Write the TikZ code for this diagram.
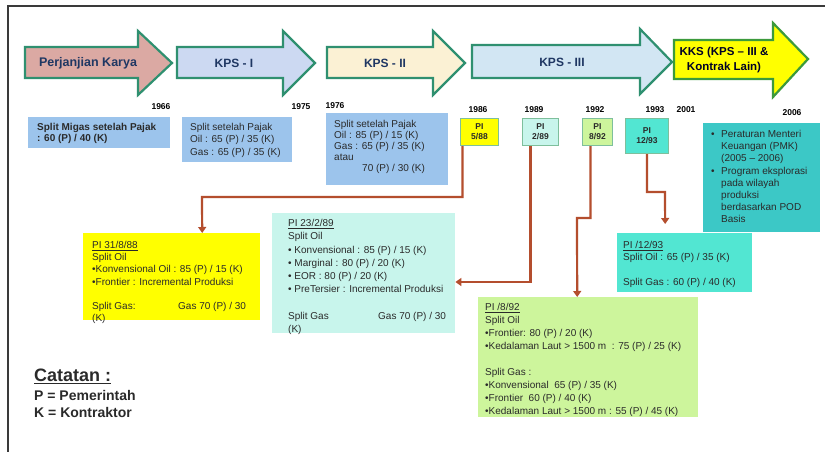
\documentclass[tikz,border=0pt]{standalone}
\usepackage{fontspec}
\setmainfont{Liberation Sans}
\usetikzlibrary{arrows.meta}

\definecolor{framec}{HTML}{3A3A3A}
\definecolor{arrowline}{HTML}{2F9070}
\definecolor{labelc}{HTML}{1F3763}
\definecolor{textc}{HTML}{2A2A2A}
\definecolor{fillpk}{HTML}{DBA9A3}
\definecolor{fillkpsi}{HTML}{CCD9F2}
\definecolor{fillkpsii}{HTML}{FBF1D4}
\definecolor{fillkpsiii}{HTML}{D2E6F3}
\definecolor{fillkks}{HTML}{FFFF00}
\definecolor{kksline}{HTML}{3C9A3C}
\definecolor{bluebox}{HTML}{9CC4EC}
\definecolor{yellowbox}{HTML}{FFFF00}
\definecolor{aquabox}{HTML}{C8F5EC}
\definecolor{greenbox}{HTML}{CDF59C}
\definecolor{turqbox}{HTML}{52E6D2}
\definecolor{tealbox}{HTML}{3CC8C6}
\definecolor{piborder}{HTML}{7EBF9C}
\definecolor{connc}{HTML}{B44E2E}

\tikzset{
  blockarrow/.style={draw=arrowline, line width=2.2pt, line join=miter},
  arrowlabel/.style={font=\fontsize{12}{15}\selectfont\bfseries, text=labelc, align=center, inner sep=0pt},
  panel/.style={anchor=north west, inner sep=0pt, draw=none},
  pibox/.style={anchor=north west, inner sep=0pt, draw=piborder, line width=1pt},
  pilabel/.style={font=\fontsize{8.5}{10}\selectfont\bfseries, text=textc, align=center, inner sep=0pt},
  yearlabel/.style={font=\fontsize{8.5}{10}\selectfont\bfseries, text=black, inner sep=0pt},
  boxtext/.style={anchor=north west, inner sep=0pt, align=left, text=textc},
  conn/.style={draw=connc, line width=2.2pt, -{Triangle[width=8pt,length=6pt]}},
}

\begin{document}
\begin{tikzpicture}[x=1pt,y=-1pt]
\useasboundingbox (0,0) rectangle (825,452);
\fill[white] (0,0) rectangle (825,452);

% outer frame
\draw[framec, line width=1.6pt] (8,452) -- (8,6) -- (825,6);

% phase arrows
\draw[blockarrow, fill=fillpk] (25,47) -- (138,47) -- (138,31) -- (172,63) -- (138,95) -- (138,78) -- (25,78) -- cycle;
\draw[blockarrow, fill=fillkpsi] (177,47) -- (283,47) -- (283,31) -- (315,63) -- (283,95) -- (283,78) -- (177,78) -- cycle;
\draw[blockarrow, fill=fillkpsii] (327,47) -- (433,47) -- (433,31) -- (465,63) -- (433,95) -- (433,78) -- (327,78) -- cycle;
\draw[blockarrow, fill=fillkpsiii] (472,45) -- (640,45) -- (640,29) -- (672,62) -- (640,94) -- (640,78) -- (472,78) -- cycle;
\draw[blockarrow, draw=kksline, fill=fillkks] (674,40) -- (773,40) -- (773,23) -- (808,59) -- (773,97) -- (773,79) -- (674,79) -- cycle;

\node[arrowlabel, font=\fontsize{12.5}{15}\selectfont\bfseries] (lpk) at (88,63) {Perjanjian Karya};
\node[arrowlabel] (lkps1) at (234,63) {KPS - I};
\node[arrowlabel] (lkps2) at (385,63) {KPS - II};
\node[arrowlabel] (lkps3) at (562,62) {KPS - III};
\node[arrowlabel, font=\fontsize{11.5}{15}\selectfont\bfseries, text=black!85!blue] (lkks) at (724,60) {KKS (KPS -- III \&\\Kontrak Lain)};

% years
\node[yearlabel] (y66) at (161,107) {1966};
\node[yearlabel] (y75) at (301,107) {1975};
\node[yearlabel] (y76) at (335,106) {1976};
\node[yearlabel] (y86) at (478,110) {1986};
\node[yearlabel] (y89) at (534,110) {1989};
\node[yearlabel] (y92) at (595,110) {1992};
\node[yearlabel] (y93) at (655,110) {1993};
\node[yearlabel] (y01) at (686,110) {2001};
\node[yearlabel] (y06) at (792,113) {2006};

% fiscal split boxes (top row)
\node[panel, fill=bluebox, minimum width=142pt, minimum height=31pt] (ba) at (28,117) {};
\node[boxtext, font=\fontsize{10}{11.5}\selectfont\bfseries] (ta) at (37,123)
  {Split Migas setelah Pajak\\: 60 (P) / 40 (K)};

\node[panel, fill=bluebox, minimum width=110pt, minimum height=45pt] (bb) at (182,117) {};
\node[boxtext, font=\fontsize{10}{12.5}\selectfont] (tb) at (190,123)
  {Split setelah Pajak\\Oil : 65 (P) / 35 (K)\\Gas : 65 (P) / 35 (K)};

\node[panel, fill=bluebox, minimum width=122pt, minimum height=72pt] (bc) at (326,113) {};
\node[boxtext, font=\fontsize{10}{11}\selectfont] (tc) at (334,120)
  {Split setelah Pajak\\Oil : 85 (P) / 15 (K)\\Gas : 65 (P) / 35 (K)\\atau\\\hspace*{28pt}70 (P) / 30 (K)};

% PI markers
\node[pibox, fill=yellowbox, minimum width=38pt, minimum height=27pt] (pi588) at (460,118) {};
\node[pilabel] (lpi588) at (pi588.center) {PI\\5/88};
\node[pibox, fill=aquabox, minimum width=36pt, minimum height=27pt] (pi289) at (522,118) {};
\node[pilabel] (lpi289) at (pi289.center) {PI\\2/89};
\node[pibox, fill=greenbox, minimum width=30pt, minimum height=27pt] (pi892) at (582,118) {};
\node[pilabel] (lpi892) at (pi892.center) {PI\\8/92};
\node[pibox, fill=turqbox, minimum width=43pt, minimum height=35pt] (pi1293) at (625,118) {};
\node[pilabel] (lpi1293) at (pi1293.center) {PI\\12/93};

% 2006 policy box
\node[panel, fill=tealbox, minimum width=117pt, minimum height=109pt] (bt) at (703,123) {};
\node[boxtext, font=\fontsize{10}{12.2}\selectfont] (tt) at (711,130)
  {\makebox[10pt][l]{\textbullet}Peraturan Menteri\\
   \hspace*{10pt}Keuangan (PMK)\\
   \hspace*{10pt}(2005 -- 2006)\\
   \makebox[10pt][l]{\textbullet}Program eksplorasi\\
   \hspace*{10pt}pada wilayah\\
   \hspace*{10pt}produksi\\
   \hspace*{10pt}berdasarkan POD\\
   \hspace*{10pt}Basis};

% PI detail boxes
\node[panel, fill=yellowbox, minimum width=177pt, minimum height=87pt] (b31) at (83,233) {};
\node[boxtext, font=\fontsize{10}{12.2}\selectfont] (t31) at (92,241)
  {\underline{PI 31/8/88}\\Split Oil\\\textbullet Konvensional Oil : 85 (P) / 15 (K)\\\textbullet Frontier : Incremental Produksi\\[12.2pt]
   \makebox[86pt][l]{Split Gas:}Gas 70 (P) / 30\\(K)};

\node[panel, fill=aquabox, minimum width=183pt, minimum height=120pt] (b23) at (272,213) {};
\node[boxtext, font=\fontsize{10}{13.3}\selectfont] (t23) at (288,219)
  {\underline{PI 23/2/89}\\Split Oil\\\textbullet{} Konvensional : 85 (P) / 15 (K)\\\textbullet{} Marginal : 80 (P) / 20 (K)\\\textbullet{} EOR : 80 (P) / 20 (K)\\\textbullet{} PreTersier : Incremental Produksi\\[13.3pt]
   \makebox[90pt][l]{Split Gas}Gas 70 (P) / 30\\(K)};

\node[panel, fill=greenbox, minimum width=220pt, minimum height=120pt] (b892) at (478,297) {};
\node[boxtext, font=\fontsize{10}{13}\selectfont] (t892) at (485,303)
  {\underline{PI /8/92}\\Split Oil\\\textbullet Frontier: 80 (P) / 20 (K)\\\textbullet Kedalaman Laut > 1500 m \ : 75 (P) / 25 (K)\\[13pt]
   Split Gas :\\\textbullet Konvensional \ 65 (P) / 35 (K)\\\textbullet Frontier \ 60 (P) / 40 (K)\\\textbullet Kedalaman Laut > 1500 m : 55 (P) / 45 (K)};

\node[panel, fill=turqbox, minimum width=135pt, minimum height=59pt] (b1293) at (617,233) {};
\node[boxtext, font=\fontsize{10}{12.3}\selectfont] (t1293) at (623,241)
  {\underline{PI /12/93}\\Split Oil : 65 (P) / 35 (K)\\[12.3pt]Split Gas : 60 (P) / 40 (K)};

% connectors from PI markers to their detail boxes
\coordinate (c1) at (202,197);
\draw[conn] ([xshift=-17pt]pi588.south) |- (c1) -- ([xshift=30.5pt]b31.north);

\coordinate (c2) at (530,282);
\draw[conn] ([xshift=-10pt]pi289.south) |- (c2) -- (b23.east |- c2);

\coordinate (c3a) at (590,218);
\coordinate (c3b) at (577,218);
\draw[conn] ([xshift=-7pt]pi892.south) |- (c3a) -- (c3b) -- ([xshift=-11pt]b892.north);

\coordinate (c4) at (665,192);
\draw[conn, shorten >=9pt] (pi1293.south) |- (c4) -- ([xshift=-19.5pt]b1293.north);

% legend
\node[anchor=west, inner sep=0pt, font=\fontsize{18}{20}\selectfont\bfseries, text=textc] (leg) at (34,376) {\underline{Catatan :}};
\node[anchor=west, inner sep=0pt, font=\fontsize{14}{17}\selectfont\bfseries, text=textc, align=left] (legp) at (34,404) {P = Pemerintah\\K = Kontraktor};
\end{tikzpicture}
\end{document}
